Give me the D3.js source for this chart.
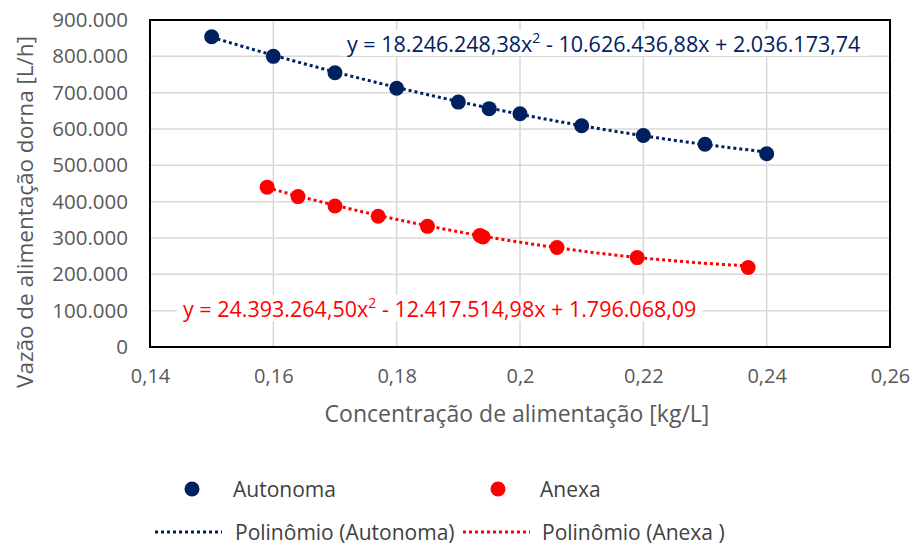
<!DOCTYPE html>
<html>
<head>
<meta charset="utf-8">
<script src="https://cdn.jsdelivr.net/npm/d3@7/dist/d3.min.js"></script>
<style>
  body { margin: 0; background: #fff; }
  text { font-family: "Open Sans", "Noto Sans", sans-serif; }
</style>
</head>
<body>
<svg id="chart" width="914" height="549"></svg>
<script>
// Vazão de alimentação vs concentração -- two dornas with polynomial trendlines

var autonomaX = [0.15, 0.16, 0.17, 0.18, 0.19, 0.195, 0.20, 0.21, 0.22, 0.23, 0.24];
var autonomaY = [854000, 800000, 755000, 712000, 674000, 656000, 642000, 609000, 582000, 558000, 532000];

var anexaX = [0.159, 0.164, 0.170, 0.177, 0.185, 0.1935, 0.194, 0.206, 0.219, 0.237];
var anexaY = [440000, 414000, 388000, 360000, 332000, 307000, 303000, 274000, 246000, 219000];

// trendline coefficients as printed on the chart (a x^2 + b x + c)
var autonomaPoly = [18246248.38, -10626436.88, 2036173.74];
var anexaPoly = [24393264.50, -12417514.98, 1796068.09];

var xTicks = [0.14, 0.16, 0.18, 0.20, 0.22, 0.24, 0.26];
var xTickLabels = ["0,14", "0,16", "0,18", "0,2", "0,22", "0,24", "0,26"];
var yTicks = [0, 100000, 200000, 300000, 400000, 500000, 600000, 700000, 800000, 900000];
var yTickLabels = ["0", "100.000", "200.000", "300.000", "400.000", "500.000", "600.000", "700.000", "800.000", "900.000"];

var autonomaEq = ["y = 18.246.248,38x", " - 10.626.436,88x + 2.036.173,74"];
var anexaEq = ["y = 24.393.264,50x", " - 12.417.514,98x + 1.796.068,09"];

var BLUE = "#002060", RED = "#ff0000", GRID = "#d9d9d9", TXT = "#595959", LEG = "#404040";

var svg = d3.select("#chart");
var plotL = 150, plotR = 890, plotT = 20, plotB = 347;

var x = d3.scaleLinear().domain([0.14, 0.26]).range([plotL, plotR]);
var y = d3.scaleLinear().domain([0, 900000]).range([plotB, plotT]);

///////////////////////////////////////////////////////////////////////////////
// grid + frame

svg.append("g").selectAll("line")
  .data(xTicks.slice(1, -1)).enter().append("line")
  .attr("x1", function (d) { return x(d); }).attr("x2", function (d) { return x(d); })
  .attr("y1", plotT).attr("y2", plotB)
  .attr("stroke", GRID).attr("stroke-width", 1.5);

svg.append("g").selectAll("line")
  .data(yTicks.slice(1, -1)).enter().append("line")
  .attr("x1", plotL).attr("x2", plotR)
  .attr("y1", function (d) { return y(d); }).attr("y2", function (d) { return y(d); })
  .attr("stroke", GRID).attr("stroke-width", 1.5);

svg.append("rect")
  .attr("x", plotL).attr("y", plotT)
  .attr("width", plotR - plotL).attr("height", plotB - plotT)
  .attr("fill", "none").attr("stroke", "#000").attr("stroke-width", 2);

// tick labels
var xAxis = d3.axisBottom(x).tickValues(xTicks).tickSize(0).tickPadding(22)
  .tickFormat(function (d, i) { return xTickLabels[i]; });
var gx = svg.append("g").attr("transform", "translate(0," + plotB + ")").call(xAxis);
gx.select(".domain").remove();
gx.selectAll("text").attr("fill", TXT).style("font-size", "20px")
  .style("font-family", "'Open Sans', sans-serif");

var yAxis = d3.axisLeft(y).tickValues(yTicks).tickSize(0).tickPadding(22)
  .tickFormat(function (d, i) { return yTickLabels[i]; });
var gy = svg.append("g").attr("transform", "translate(" + plotL + ",0)").call(yAxis);
gy.select(".domain").remove();
gy.selectAll("text").attr("fill", TXT).style("font-size", "20.5px")
  .style("font-family", "'Open Sans', sans-serif");

// axis titles
svg.append("text").attr("x", 517).attr("y", 422)
  .attr("text-anchor", "middle").attr("fill", TXT).style("font-size", "23px")
  .text("Concentração de alimentação [kg/L]");

svg.append("text").attr("transform", "translate(33,212) rotate(-90)")
  .attr("text-anchor", "middle").attr("fill", TXT).style("font-size", "22.5px")
  .text("Vazão de alimentação dorna [L/h]");

///////////////////////////////////////////////////////////////////////////////
// trendlines (from printed coefficients) and points

var trend = function (coef, xs) {
  var lo = d3.min(xs), hi = d3.max(xs), pts = [];
  for (var i = 0; i <= 60; i++) {
    var xv = lo + (hi - lo) * i / 60;
    pts.push([xv, coef[0] * xv * xv + coef[1] * xv + coef[2]]);
  }
  return pts;
};
var line = d3.line().x(function (d) { return x(d[0]); }).y(function (d) { return y(d[1]); });

svg.append("path").datum(trend(autonomaPoly, autonomaX)).attr("d", line)
  .attr("fill", "none").attr("stroke", BLUE).attr("stroke-width", 3)
  .attr("stroke-dasharray", "3,3");
svg.append("path").datum(trend(anexaPoly, anexaX)).attr("d", line)
  .attr("fill", "none").attr("stroke", RED).attr("stroke-width", 3)
  .attr("stroke-dasharray", "3,3");

svg.append("g").selectAll("circle")
  .data(d3.zip(autonomaX, autonomaY)).enter().append("circle")
  .attr("cx", function (d) { return x(d[0]); })
  .attr("cy", function (d) { return y(d[1]); })
  .attr("r", 7.5).attr("fill", BLUE);

svg.append("g").selectAll("circle")
  .data(d3.zip(anexaX, anexaY)).enter().append("circle")
  .attr("cx", function (d) { return x(d[0]); })
  .attr("cy", function (d) { return y(d[1]); })
  .attr("r", 7.5).attr("fill", RED);

///////////////////////////////////////////////////////////////////////////////
// equation labels

var equation = function (xPos, yPos, parts, color) {
  var g = svg.append("g");
  var bg = g.append("rect").attr("fill", "#fff");
  var t = g.append("text").attr("x", xPos).attr("y", yPos).attr("fill", color)
    .style("font-size", "21.5px").style("font-family", "'Open Sans', sans-serif");
  t.append("tspan").text(parts[0]);
  t.append("tspan").attr("dy", -9).style("font-size", "14px").text("2");
  t.append("tspan").attr("dy", 9).text(parts[1]);
  var bb = t.node().getBBox();
  bg.attr("x", bb.x - 6).attr("y", bb.y + 2).attr("width", bb.width + 12).attr("height", bb.height - 4);
  return t;
};
equation(347, 52, autonomaEq, BLUE);
equation(183, 317, anexaEq, RED);

///////////////////////////////////////////////////////////////////////////////
// legend

svg.append("circle").attr("cx", 192).attr("cy", 489).attr("r", 7.5).attr("fill", BLUE);
svg.append("text").attr("x", 233).attr("y", 497).attr("fill", LEG).style("font-size", "21px").text("Autonoma");
svg.append("circle").attr("cx", 498).attr("cy", 489).attr("r", 7.5).attr("fill", RED);
svg.append("text").attr("x", 540).attr("y", 497).attr("fill", LEG).style("font-size", "21px").text("Anexa");

svg.append("line").attr("x1", 155).attr("x2", 222).attr("y1", 532).attr("y2", 532)
  .attr("stroke", BLUE).attr("stroke-width", 3).attr("stroke-dasharray", "3,3");
svg.append("text").attr("x", 235).attr("y", 540).attr("fill", LEG).style("font-size", "21px").text("Polinômio (Autonoma)");
svg.append("line").attr("x1", 463).attr("x2", 530).attr("y1", 532).attr("y2", 532)
  .attr("stroke", RED).attr("stroke-width", 3).attr("stroke-dasharray", "3,3");
svg.append("text").attr("x", 542).attr("y", 540).attr("fill", LEG).style("font-size", "21px").text("Polinômio (Anexa )");
</script>
</body>
</html>
